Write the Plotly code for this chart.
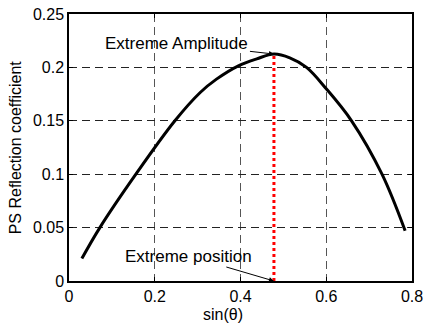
import plotly.graph_objects as go

# curve
sin_theta = [0.03, 0.072, 0.156, 0.247, 0.306, 0.344, 0.395, 0.438, 0.478, 0.515, 0.554, 0.600, 0.659, 0.730, 0.784]
ps_coef   = [0.021, 0.050, 0.100, 0.150, 0.1765, 0.189, 0.2015, 0.208, 0.2125, 0.209, 0.200, 0.180, 0.150, 0.100, 0.047]

peak_x = 0.478
peak_y = 0.2125

x_ticks = [0, 0.2, 0.4, 0.6, 0.8]
x_tick_labels = ["0", "0.2", "0.4", "0.6", "0.8"]
y_ticks = [0, 0.05, 0.1, 0.15, 0.2, 0.25]
y_tick_labels = ["0", "0.05", "0.1", "0.15", "0.2", "0.25"]

FONT = "Liberation Sans, Arial, sans-serif"

fig = go.Figure()
fig.add_trace(go.Scatter(x=sin_theta, y=ps_coef, mode="lines",
                         line=dict(color="black", width=3, shape="spline", smoothing=1.0),
                         showlegend=False, hoverinfo="skip"))
fig.add_trace(go.Scatter(x=[peak_x, peak_x], y=[0, peak_y], mode="lines",
                         line=dict(color="red", width=3, dash="3px,3px"),
                         showlegend=False, hoverinfo="skip"))

common = dict(showgrid=True, gridwidth=1, griddash="8px,5px", automargin=False,
              showline=True, linecolor="black", linewidth=1.5, mirror="ticks",
              ticks="inside", ticklen=4, tickcolor="black", zeroline=False,
              ticklabeloverflow="allow",
              tickfont=dict(family=FONT, size=16, color="black"))
fig.update_xaxes(range=[0, 0.8], tickvals=x_ticks, ticktext=x_tick_labels,
                 gridcolor="#555555", **common)
fig.update_yaxes(range=[0, 0.25], tickvals=y_ticks, ticktext=y_tick_labels,
                 gridcolor="#222222", **common)

fig.add_annotation(x=peak_x, y=peak_y, text="Extreme Amplitude", showarrow=True,
                   ax=-97, ay=-11, arrowhead=2, arrowsize=1, arrowwidth=1, arrowcolor="black",
                   standoff=0, font=dict(family=FONT, size=17, color="black"))
fig.add_annotation(x=peak_x, y=0, text="Extreme position", showarrow=True,
                   ax=-85, ay=-25, arrowhead=2, arrowsize=1, arrowwidth=1, arrowcolor="black",
                   standoff=0, font=dict(family=FONT, size=17, color="black"))
fig.add_annotation(xref="paper", yref="paper", x=0.449, y=-0.127, yanchor="middle",
                   text="sin(θ)", showarrow=False, font=dict(family=FONT, size=16, color="black"))
fig.add_annotation(xref="paper", yref="paper", x=-0.155, y=0.5, xanchor="center", yanchor="middle",
                   textangle=-90, text="PS Reflection coefficient", showarrow=False,
                   font=dict(family=FONT, size=16, color="black"))

fig.update_layout(width=424, height=326, margin=dict(l=69, r=12, t=14, b=45),
                  plot_bgcolor="white", paper_bgcolor="white")
fig.write_html("out.html", config={"displayModeBar": False},
               post_script="document.body.style.margin='0px';document.body.style.overflow='hidden';")
